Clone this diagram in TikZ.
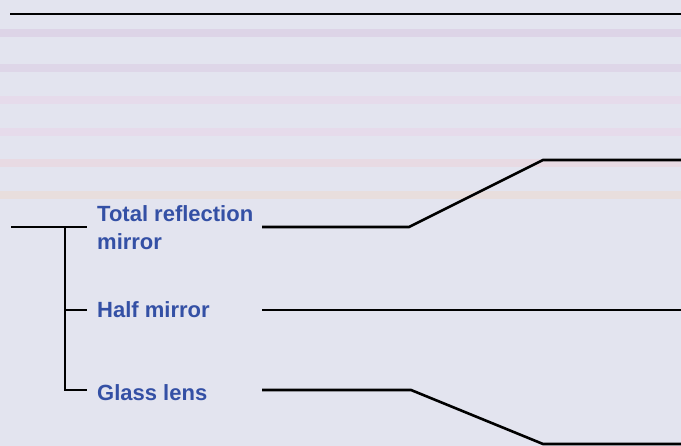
\documentclass[tikz,border=0pt]{standalone}
\usepackage{fontspec}
\setmainfont{Liberation Sans}
\definecolor{paper}{RGB}{227,228,239}
\definecolor{labelblue}{RGB}{52,80,165}
\tikzset{
  wire/.style={line width=2.6pt, black},
  partlabel/.style={anchor=base west, inner sep=0pt, text=labelblue,
    font=\bfseries\fontsize{22}{28}\selectfont, align=left},
  band/.style={opacity=0.18}
}

\begin{document}
\begin{tikzpicture}[x=1pt,y=1pt]
    % Background
    \fill[paper] (0,0) rectangle (681,446);
    \useasboundingbox (0,0) rectangle (681,446);
    \foreach \yy/\cc in {413/violet!45, 378/violet!40, 346/magenta!30, 314/magenta!30, 283/red!30, 251/orange!45}
        \fill[\cc, band] (0,\yy-4) rectangle (681,\yy+4);

    % Top rule
    \coordinate (topL) at (10,432);
    \coordinate (topR) at (681,432);
    \draw[wire] (topL) -- (topR);

    % Labels
    \node[partlabel] (total) at (97,196) {Total reflection\\mirror};
    \node[partlabel] (half) at (97,128) {Half mirror};
    \node[partlabel] (glass) at (97,45) {Glass lens};

    % Bracket on the left
    \coordinate (root) at (11,219);
    \coordinate (trunkTop) at (65,219);
    \coordinate (trunkMid) at (65,136);
    \coordinate (trunkBot) at (65,56);
    \coordinate (tipTotal) at (87,219);
    \coordinate (tipHalf) at (87,136);
    \coordinate (tipGlass) at (87,56);
    \draw[wire] (root) -- (tipTotal);
    \draw[wire] (trunkTop) -- (trunkBot) -- (tipGlass);
    \draw[wire] (trunkMid) -- (tipHalf);

    % Leaders to the right
    \coordinate (outTotal) at (262,219);
    \coordinate (bendTotal) at (409,219);
    \coordinate (kneeTotal) at (543,286);
    \coordinate (endTotal) at (681,286);
    \draw[wire] (outTotal) -- (bendTotal) -- (kneeTotal) -- (endTotal);

    \coordinate (outHalf) at (262,136);
    \coordinate (endHalf) at (681,136);
    \draw[wire] (outHalf) -- (endHalf);

    \coordinate (outGlass) at (262,56);
    \coordinate (bendGlass) at (411,56);
    \coordinate (kneeGlass) at (543,2);
    \coordinate (endGlass) at (681,2);
    \draw[wire] (outGlass) -- (bendGlass) -- (kneeGlass) -- (endGlass);
\end{tikzpicture}
\end{document}
